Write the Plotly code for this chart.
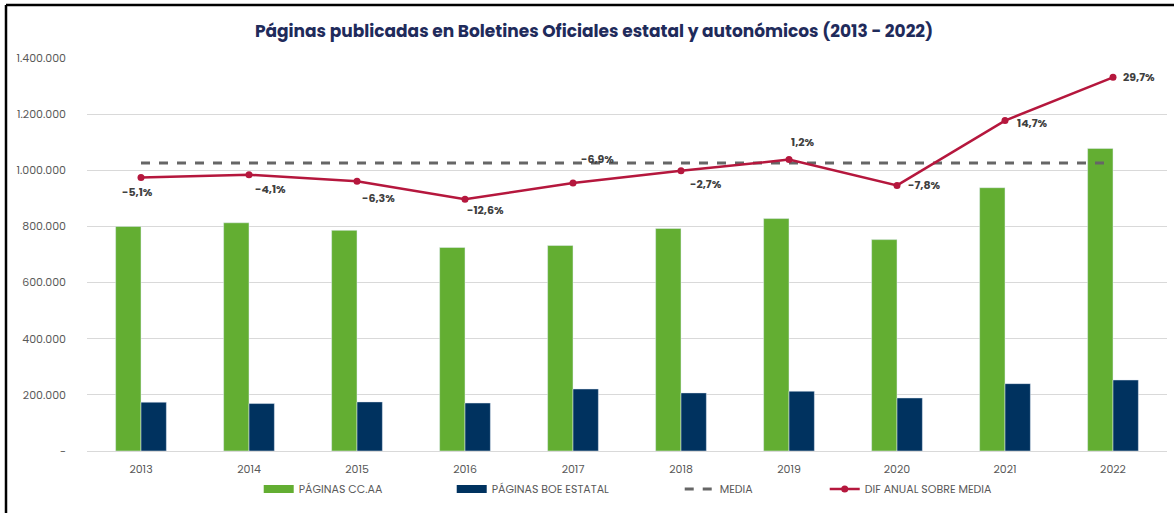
import plotly.graph_objects as go

years = ["2013", "2014", "2015", "2016", "2017", "2018", "2019", "2020", "2021", "2022"]
paginas_ccaa = [800000, 813000, 786000, 725000, 732000, 793000, 828000, 753000, 938000, 1078000]
paginas_boe = [174000, 169000, 175000, 171000, 221000, 207000, 213000, 189000, 240000, 253000]
media = [1026000] * 10
total_paginas = [974000, 984000, 961000, 897000, 955000, 998000, 1038000, 946000, 1177000, 1331000]
dif_labels = ["-5,1%", "-4,1%", "-6,3%", "-12,6%", "-6,9%", "-2,7%", "1,2%", "-7,8%", "14,7%", "29,7%"]
y_ticks = [0, 200000, 400000, 600000, 800000, 1000000, 1200000, 1400000]
y_ticktext = ["-", "200.000", "400.000", "600.000", "800.000", "1.000.000", "1.200.000", "1.400.000"]

# label offsets in px (style only)
label_dx = [-4, 21, 21, 20, 24, 25, 14, 27, 27, 26]
label_dy = [-14, -14, -17, -11, 24, -13, 18, 0, -2, 0]

FONT = "Poppins, Inter, sans-serif"
GREEN = "#63AE32"
NAVY = "#00325F"
RED = "#B5173D"
GREY = "#666666"

fig = go.Figure()
fig.add_trace(go.Bar(x=years, y=paginas_ccaa, name="PÁGINAS CC.AA", marker_color=GREEN,
                     legendgroup="ccaa", showlegend=False))
fig.add_trace(go.Bar(x=years, y=paginas_boe, name="PÁGINAS BOE ESTATAL", marker_color=NAVY,
                     legendgroup="boe", showlegend=False))
# wide rectangular legend swatches for the bar series
fig.add_trace(go.Scatter(x=[None], y=[None], name="PÁGINAS CC.AA", mode="lines", legendgroup="ccaa",
                         line=dict(color=GREEN, width=8), legendwidth=148, hoverinfo="skip"))
fig.add_trace(go.Scatter(x=[None], y=[None], name="PÁGINAS BOE ESTATAL", mode="lines", legendgroup="boe",
                         line=dict(color=NAVY, width=8), legendwidth=183, hoverinfo="skip"))
fig.add_trace(go.Scatter(x=years, y=media, name="MEDIA", mode="lines",
                         line=dict(color=GREY, width=3, dash="dash"), legendwidth=100))
fig.add_trace(go.Scatter(x=years, y=total_paginas, name="DIF ANUAL SOBRE MEDIA", mode="lines+markers",
                         line=dict(color=RED, width=2.5), marker=dict(color=RED, size=7),
                         legendwidth=160))

for i, (v, lab, dx, dy) in enumerate(zip(total_paginas, dif_labels, label_dx, label_dy)):
    fig.add_annotation(x=i, y=v, text=lab, showarrow=False, xshift=dx, yshift=dy,
                       font=dict(family=FONT, size=11, color="#404040", weight="bold"))

# outer frame lines (top and left)
fig.add_shape(type="line", xref="paper", yref="paper", x0=-0.075, x1=1.01, y0=1.135, y1=1.135,
              line=dict(color="black", width=2.5))
fig.add_shape(type="line", xref="paper", yref="paper", x0=-0.075, x1=-0.075, y0=-0.16, y1=1.135,
              line=dict(color="black", width=2.5))

fig.update_layout(
    width=1174, height=513,
    margin=dict(l=87, r=7, t=58, b=62),
    paper_bgcolor="white", plot_bgcolor="white",
    barmode="group", bargap=0.53, bargroupgap=0,
    font=dict(family=FONT, size=11, color="#595959"),
    title=dict(text="<b>Páginas publicadas en Boletines Oficiales estatal y autonómicos (2013 - 2022)</b>",
               x=0.506, xanchor="center", y=0.94, yanchor="middle",
               font=dict(family=FONT, size=17, color="#1F2B5B")),
    legend=dict(orientation="h", x=0.159, xanchor="left", y=-0.06, yanchor="top",
                font=dict(family=FONT, size=11, color="#595959"), traceorder="normal"),
    xaxis=dict(type="category", range=[-0.5, 9.5], showgrid=False, showline=True, linecolor="#D9D9D9",
               linewidth=1, ticks="", ticklabelstandoff=8, tickfont=dict(size=11, color="#595959")),
    yaxis=dict(range=[0, 1400000], tickvals=y_ticks, ticktext=y_ticktext, showgrid=True,
               gridcolor="#D9D9D9", gridwidth=1, zeroline=False, ticklabelstandoff=20,
               tickfont=dict(size=11, color="#595959")),
    showlegend=True,
)

fig.write_html("out.html", config={"displayModeBar": False},
               post_script="document.body.style.margin='0';")
